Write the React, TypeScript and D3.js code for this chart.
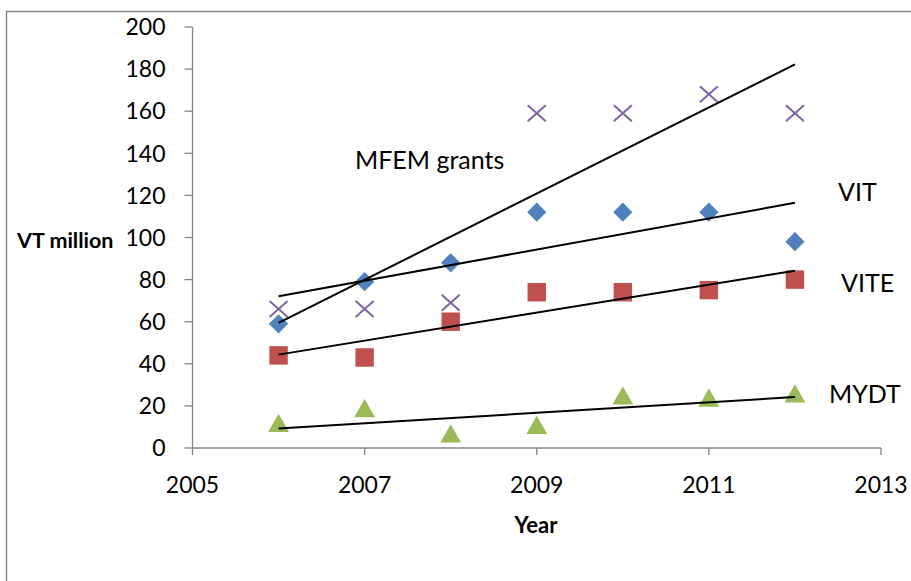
import React from 'react';
import * as d3 from 'd3';

const years = [2006, 2007, 2008, 2009, 2010, 2011, 2012];
const vit = [59, 79, 88, 112, 112, 112, 98];
const vite = [44, 43, 60, 74, 74, 75, 80];
const mydt = [11, 18, 6, 10, 24, 23, 25];
const mfem = [66, 66, 69, 159, 159, 168, 159];
const yTicks = [0, 20, 40, 60, 80, 100, 120, 140, 160, 180, 200];
const xTicks = [2005, 2007, 2009, 2011, 2013];

const W = 911;
const H = 581;
const FONT = 'Lato, "Open Sans", sans-serif';

// least squares trend line between first and last year
function trend(ys: number[]) {
  const mx = d3.mean(years)!;
  const my = d3.mean(ys)!;
  const num = d3.sum(years, (x, i) => (x - mx) * (ys[i] - my));
  const den = d3.sum(years, x => (x - mx) * (x - mx));
  const b = num / den;
  const a = my - b * mx;
  const x0 = years[0];
  const x1 = years[years.length - 1];
  return [[x0, a + b * x0], [x1, a + b * x1]] as [number, number][];
}

const App: React.FC = () => {
  const x = d3.scaleLinear().domain([2005, 2013]).range([192.5, 881]);
  const y = d3.scaleLinear().domain([0, 200]).range([448, 27]);
  const line = d3.line<[number, number]>().x(d => x(d[0])).y(d => y(d[1]));

  const diamond = d3.symbol().type(d3.symbolSquare).size(185)();
  const square = d3.symbol().type(d3.symbolSquare).size(340)();
  const tri = d3.symbol().type(d3.symbolTriangle).size(190)();

  return (
    <div style={{ position: 'fixed', left: 0, top: 0 }}>
      <svg width={W} height={H} style={{ display: 'block', background: '#fff' }}>
        <rect x={6.5} y={11.5} width={W + 10} height={H + 10} fill="white" stroke="#888" strokeWidth={1.5} />

        {/* axes */}
        <line x1={x(2005)} x2={x(2005)} y1={y(200)} y2={y(0)} stroke="#868686" strokeWidth={1.3} />
        <line x1={x(2005)} x2={x(2013)} y1={y(0)} y2={y(0)} stroke="#868686" strokeWidth={1.3} />
        {yTicks.map(t => (
          <g key={'y' + t}>
            <line x1={x(2005) - 8} x2={x(2005)} y1={y(t)} y2={y(t)} stroke="#868686" strokeWidth={1.3} />
            <text x={x(2005) - 27} y={y(t)} dy="0.36em" textAnchor="end" fontFamily={FONT} fontSize={23} fill="#000">{t}</text>
          </g>
        ))}
        {xTicks.map(t => (
          <g key={'x' + t}>
            <line x1={x(t)} x2={x(t)} y1={y(0)} y2={y(0) + 7} stroke="#868686" strokeWidth={1.3} />
            <text x={x(t)} y={493} textAnchor="middle" fontFamily={FONT} fontSize={23} fill="#000">{t}</text>
          </g>
        ))}

        <text x={17} y={248} fontFamily={FONT} fontSize={21.5} fontWeight="bold" fill="#000">VT million</text>
        <text x={536} y={533} textAnchor="middle" fontFamily={FONT} fontSize={22} fontWeight="bold" fill="#000">Year</text>

        {/* markers */}
        {years.map((yr, i) => (
          <g key={'m' + yr}>
            <path d={diamond} transform={`translate(${x(yr)},${y(vit[i])}) rotate(45)`} fill="#4F81BD" />
            <path d={square} transform={`translate(${x(yr)},${y(vite[i])})`} fill="#C0504D" />
            <path d={tri} transform={`translate(${x(yr)},${y(mydt[i]) + 1})`} fill="#9BBB59" />
            <g transform={`translate(${x(yr)},${y(mfem[i])})`} stroke="#8064A2" strokeWidth={2}>
              <line x1={-9} y1={-8} x2={9} y2={8} />
              <line x1={-9} y1={8} x2={9} y2={-8} />
            </g>
          </g>
        ))}

        {/* trend lines */}
        {[mfem, vit, vite, mydt].map((s, i) => (
          <path key={'t' + i} d={line(trend(s))!} fill="none" stroke="#000" strokeWidth={2} />
        ))}

        <text x={355} y={169} fontFamily={FONT} fontSize={25} fill="#000">MFEM grants</text>
        <text x={838} y={201} fontFamily={FONT} fontSize={25} fill="#000">VIT</text>
        <text x={841} y={292} fontFamily={FONT} fontSize={25} fill="#000">VITE</text>
        <text x={829} y={403} fontFamily={FONT} fontSize={25} fill="#000">MYDT</text>
      </svg>
    </div>
  );
};

export default App;
